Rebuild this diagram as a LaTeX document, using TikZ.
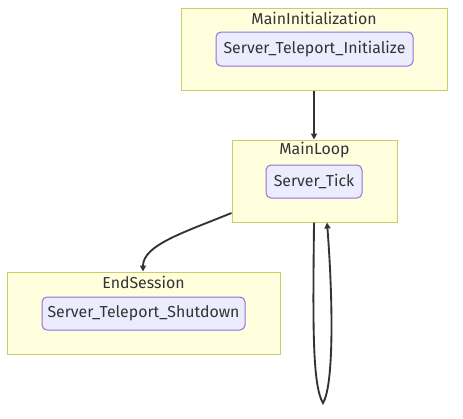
\documentclass[tikz,border=0pt]{standalone}
\usepackage{fontspec}
\setmainfont{Fira Sans}
\usetikzlibrary{arrows.meta}
\definecolor{clfill}{HTML}{FFFFDE}
\definecolor{cldraw}{HTML}{CCCC66}
\definecolor{ndfill}{HTML}{ECECFF}
\definecolor{nddraw}{HTML}{9370DB}
\definecolor{txt}{HTML}{333333}
\tikzset{
  cluster/.style={draw=cldraw, fill=clfill, line width=0.75pt, inner sep=0pt},
  proc/.style={draw=nddraw, fill=ndfill, line width=0.75pt, rounded corners=3.75pt, inner sep=0pt, text=txt, font=\fontsize{11.9}{13}\selectfont},
  ctitle/.style={text=txt, inner sep=0pt, font=\fontsize{11.9}{13}\selectfont},
  edge/.style={draw=txt, line width=1.4pt, -{Triangle[length=4.5pt,width=4.5pt]}}
}
\begin{document}
\begin{tikzpicture}[x=0.75pt,y=-0.75pt]
\useasboundingbox (0,0) rectangle (463,418);
% clusters
\node[cluster, minimum width=266*0.75pt, minimum height=82*0.75pt] (mi) at (314,49) {};
\node[ctitle] (mit) at (314,18) {MainInitialization};
\node[proc, minimum width=197*0.75pt, minimum height=34*0.75pt] (init) at (314.5,49) {Server\_Teleport\_Initialize};

\node[cluster, minimum width=165*0.75pt, minimum height=82*0.75pt] (ml) at (314.5,181) {};
\node[ctitle] (mlt) at (314.5,150) {MainLoop};
\node[proc, minimum width=96*0.75pt, minimum height=33*0.75pt] (tick) at (314,181.5) {Server\_Tick};

\node[cluster, minimum width=273*0.75pt, minimum height=82*0.75pt] (es) at (143.5,313) {};
\node[ctitle] (est) at (143.5,282) {EndSession};
\node[proc, minimum width=203*0.75pt, minimum height=33*0.75pt] (sd) at (143.5,313.5) {Server\_Teleport\_Shutdown};

% edges
\coordinate (loopbot) at (323,403);
\draw[edge] (mi.south -| 314,0) -- (ml.north -| 314,0);
\draw[edge] (ml.west |- 0,213) .. controls (185,232) and (143,245) .. (es.north -| 143,0);
\draw[edge] (ml.south -| 314,0) .. controls (313,320) and (312,385) .. (loopbot) .. controls (334,385) and (333,300) .. (ml.south -| 327,0);
\end{tikzpicture}
\end{document}
